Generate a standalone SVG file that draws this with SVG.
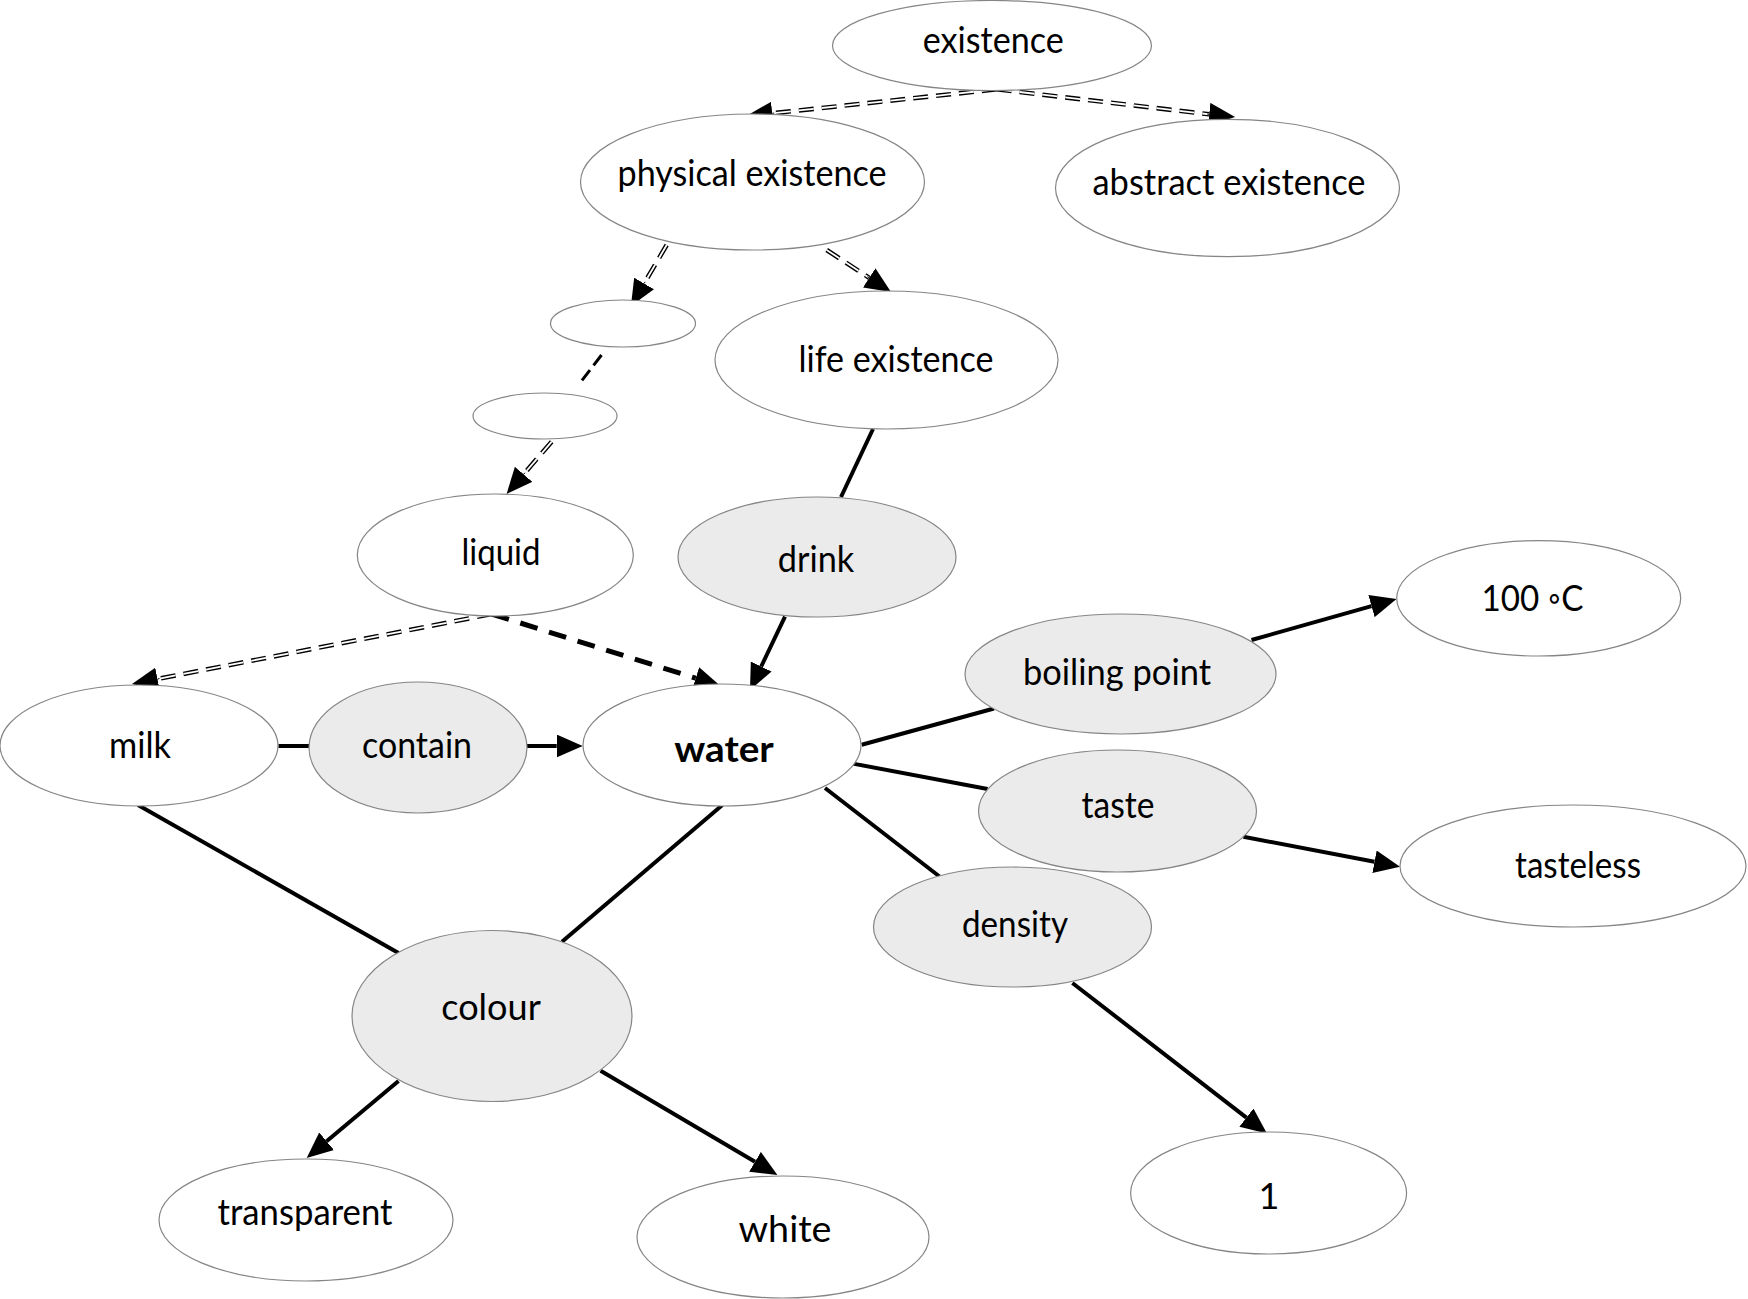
<svg xmlns="http://www.w3.org/2000/svg" width="1748" height="1299" viewBox="0 0 1748 1299">
<style>
.n ellipse{fill:#ffffff;stroke:#858585;stroke-width:1.2}
.g ellipse{fill:#ebebeb}
text{font-family:Lato,"Liberation Sans","DejaVu Sans",sans-serif;font-size:36px;fill:#000;text-anchor:middle}
.b{font-weight:bold}
.s{fill:none;stroke:#000;stroke-width:4}
.dd{fill:none;stroke:#000;stroke-width:4.6;stroke-dasharray:15 8}
.ddw{fill:none;stroke:#fff;stroke-width:1.8;stroke-dasharray:15 8}
.d{fill:none;stroke:#000;stroke-width:5;stroke-dasharray:18 12}
.d1{fill:none;stroke:#000;stroke-width:3;stroke-dasharray:13 6}
.tip{fill:none;stroke:#000;stroke-width:1}
</style>
<defs>
<marker id="ah" markerUnits="userSpaceOnUse" markerWidth="26" markerHeight="23" refX="0" refY="11.5" orient="auto" viewBox="0 0 26 23">
<path d="M0,0 L26,11.5 L0,23 z" fill="#000" stroke="none"/>
</marker>
</defs>
<rect width="1748" height="1299" fill="#fff"/>
<g id="connectors">
<path class="dd" d="M996.7,89.3 L772.2,113.3"/>
<path class="ddw" d="M996.7,89.3 L772.2,113.3"/>
<path class="tip" d="M774.2,113.1 L772.2,113.3" marker-end="url(#ah)"/>
<path class="dd" d="M996.7,89.3 L1209.2,114.3"/>
<path class="ddw" d="M996.7,89.3 L1209.2,114.3"/>
<path class="tip" d="M1207.2,114.1 L1209.2,114.3" marker-end="url(#ah)"/>
<path class="dd" d="M666.7,245 L644.1,283.5"/>
<path class="ddw" d="M666.7,245 L644.1,283.5"/>
<path class="tip" d="M645.1,281.8 L644.1,283.5" marker-end="url(#ah)"/>
<path class="dd" d="M826.7,250 L869.2,277.8"/>
<path class="ddw" d="M826.7,250 L869.2,277.8"/>
<path class="tip" d="M867.5,276.7 L869.2,277.8" marker-end="url(#ah)"/>
<path class="d1" d="M601.5,355 L581.5,381"/>
<path class="dd" d="M551.7,441.7 L523.6,474.3"/>
<path class="ddw" d="M551.7,441.7 L523.6,474.3"/>
<path class="tip" d="M524.9,472.8 L523.6,474.3" marker-end="url(#ah)"/>
<path class="dd" d="M491.7,614 L157.5,679"/>
<path class="ddw" d="M491.7,614 L157.5,679"/>
<path class="tip" d="M159.5,678.6 L157.5,679" marker-end="url(#ah)"/>
<path class="d" d="M491.7,614 L695.7,678.2"/>
<path class="tip" d="M693.8,677.6 L695.7,678.2" marker-end="url(#ah)"/>
<path class="s" d="M873,429 L841,497"/>
<path class="s" d="M785,616.7 L761.2,666.5" marker-end="url(#ah)"/>
<path class="s" d="M278.4,746 L309,746"/>
<path class="s" d="M527,746 L556.7,746" marker-end="url(#ah)"/>
<path class="s" d="M861.7,744.7 L994,708.5"/>
<path class="s" d="M1251.5,640 L1371.5,606.1" marker-end="url(#ah)"/>
<path class="s" d="M852.8,763.6 L987.6,789"/>
<path class="s" d="M1243.4,836.7 L1374.5,861.8" marker-end="url(#ah)"/>
<path class="s" d="M825,788 L939.5,876.5"/>
<path class="s" d="M1072.4,983 L1246.4,1117.6" marker-end="url(#ah)"/>
<path class="s" d="M138,805 L398.5,953"/>
<path class="s" d="M722.4,805 L562,941.7"/>
<path class="s" d="M398.5,1081 L326.6,1141.3" marker-end="url(#ah)"/>
<path class="s" d="M600.6,1070.7 L755,1161.8" marker-end="url(#ah)"/>
</g>
<g id="existence" class="n"><ellipse cx="992" cy="45.5" rx="159.5" ry="45"/><text x="993.3" y="53" textLength="141" lengthAdjust="spacingAndGlyphs">existence</text></g>
<g id="physical-existence" class="n"><ellipse cx="752.5" cy="182" rx="172" ry="68"/><text x="752" y="186" textLength="269" lengthAdjust="spacingAndGlyphs">physical existence</text></g>
<g id="abstract-existence" class="n"><ellipse cx="1227.5" cy="188" rx="172" ry="68.7"/><text x="1229" y="195" textLength="273" lengthAdjust="spacingAndGlyphs">abstract existence</text></g>
<g id="blank-1" class="n"><ellipse cx="623" cy="323.5" rx="72.5" ry="23.5"/></g>
<g id="blank-2" class="n"><ellipse cx="545" cy="416" rx="72" ry="23"/></g>
<g id="life-existence" class="n"><ellipse cx="886.5" cy="360" rx="171.5" ry="69"/><text x="896" y="372" textLength="195" lengthAdjust="spacingAndGlyphs">life existence</text></g>
<g id="liquid" class="n"><ellipse cx="495.3" cy="555" rx="138" ry="61"/><text x="501" y="565" textLength="79" lengthAdjust="spacingAndGlyphs">liquid</text></g>
<g id="drink" class="n g"><ellipse cx="817" cy="557" rx="139" ry="60"/><text x="816" y="572" textLength="76.5" lengthAdjust="spacingAndGlyphs">drink</text></g>
<g id="milk" class="n"><ellipse cx="139" cy="745.5" rx="139" ry="60.5"/><text x="140" y="758" textLength="62" lengthAdjust="spacingAndGlyphs">milk</text></g>
<g id="contain" class="n g"><ellipse cx="418" cy="747.5" rx="109" ry="65.5"/><text x="417" y="758" textLength="110" lengthAdjust="spacingAndGlyphs">contain</text></g>
<g id="water" class="n"><ellipse cx="722" cy="745" rx="139" ry="61"/><text class="b" x="724" y="762" textLength="99.5" lengthAdjust="spacingAndGlyphs">water</text></g>
<g id="boiling-point" class="n g"><ellipse cx="1120.5" cy="674" rx="155.5" ry="60"/><text x="1117" y="685" textLength="188" lengthAdjust="spacingAndGlyphs">boiling point</text></g>
<g id="100C" class="n"><ellipse cx="1538.7" cy="598.3" rx="142" ry="57.7"/><text x="1532.5" y="611" textLength="102" lengthAdjust="spacingAndGlyphs">100 ◦C</text></g>
<g id="taste" class="n g"><ellipse cx="1117.5" cy="811" rx="139" ry="61"/><text x="1118" y="818" textLength="73" lengthAdjust="spacingAndGlyphs">taste</text></g>
<g id="tasteless" class="n"><ellipse cx="1573" cy="866" rx="173" ry="61"/><text x="1578" y="878" textLength="126" lengthAdjust="spacingAndGlyphs">tasteless</text></g>
<g id="density" class="n g"><ellipse cx="1012.5" cy="927" rx="139" ry="60"/><text x="1015" y="937" textLength="106" lengthAdjust="spacingAndGlyphs">density</text></g>
<g id="colour" class="n g"><ellipse cx="492" cy="1016" rx="140" ry="85.5"/><text x="491" y="1020" textLength="99.5" lengthAdjust="spacingAndGlyphs">colour</text></g>
<g id="transparent" class="n"><ellipse cx="306" cy="1220" rx="147" ry="61"/><text x="305" y="1225" textLength="175" lengthAdjust="spacingAndGlyphs">transparent</text></g>
<g id="white" class="n"><ellipse cx="783" cy="1237" rx="146" ry="61"/><text x="785" y="1242" textLength="93" lengthAdjust="spacingAndGlyphs">white</text></g>
<g id="one" class="n"><ellipse cx="1268.6" cy="1193" rx="138" ry="61"/><text x="1269" y="1209">1</text></g>
</svg>
